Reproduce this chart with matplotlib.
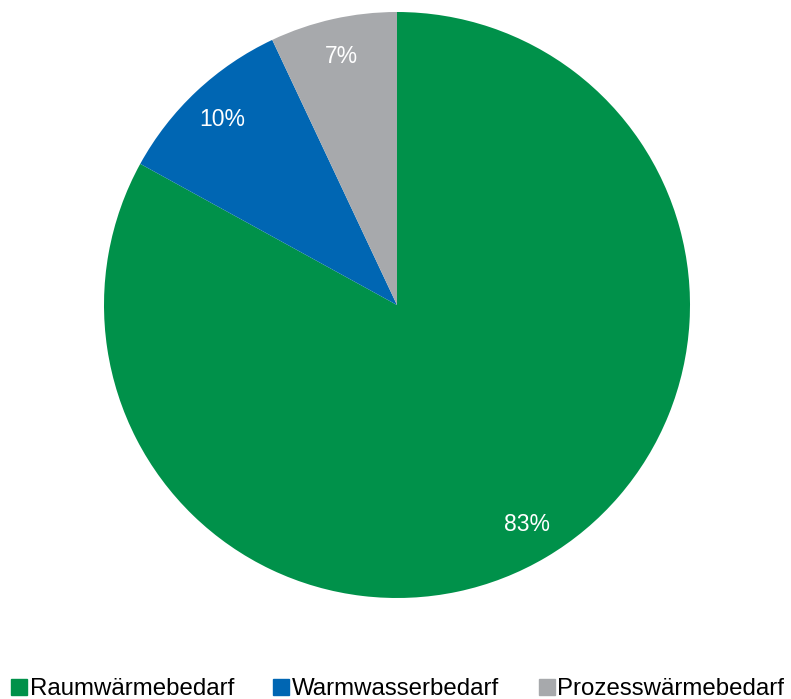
import matplotlib.pyplot as plt
from matplotlib.lines import Line2D

plt.rcParams["font.family"] = ["Liberation Sans", "DejaVu Sans"]

# Data
categories = ["Raumwärmebedarf", "Warmwasserbedarf", "Prozesswärmebedarf"]
shares = [83, 10, 7]
colors = ["#00914A", "#0066B3", "#A7A9AC"]

W, H = 791, 699
fig = plt.figure(figsize=(W / 100, H / 100), dpi=100)

# pie centre (397, 305) px, radius 293 px
r = 293
ax = fig.add_axes([(397 - r) / W, (H - 305 - r) / H, 2 * r / W, 2 * r / H])
ax.pie(
    shares,
    colors=colors,
    startangle=90,
    counterclock=False,
    autopct="%1.0f%%",
    pctdistance=0.87,
    textprops=dict(color="white", fontsize=16.5),
    wedgeprops=dict(linewidth=0),
    radius=1,
)
ax.set_xlim(-1, 1)
ax.set_ylim(-1, 1)
ax.axis("off")

handles = [
    Line2D([], [], linestyle="none", marker="s", markersize=11.5,
           markerfacecolor=c, markeredgecolor=c)
    for c in colors
]
fig.legend(
    handles, categories,
    loc="lower left",
    bbox_to_anchor=(0.013, -0.002),
    ncol=3,
    frameon=False,
    fontsize=17.3,
    handlelength=0.7,
    handletextpad=0.1,
    columnspacing=1.62,
    borderpad=0,
    borderaxespad=0,
)

fig.savefig("out.png", dpi=100)
